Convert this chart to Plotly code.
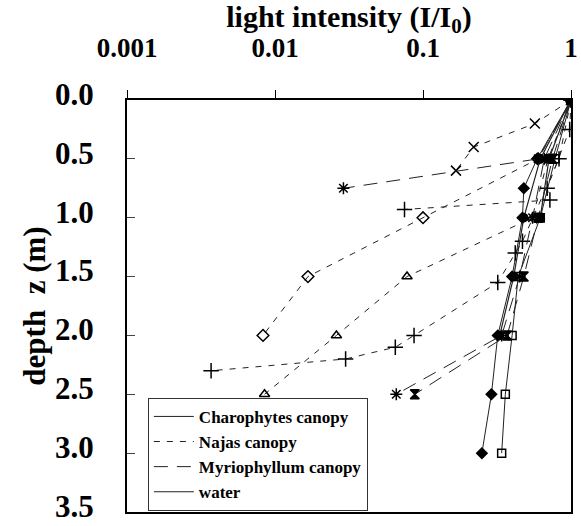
import plotly.graph_objects as go

# ---------------- data ----------------
# Charophytes canopy
char_dia_z = [0, 0.5, 0.75, 1.0, 1.5, 2.0, 2.5, 3.0]
char_dia_v = [1, 0.59, 0.48, 0.47, 0.40, 0.32, 0.29, 0.25]
char_sq_z = [0, 0.5, 1.0, 1.5, 2.0, 2.5, 3.0]
char_sq_v = [1, 0.78, 0.62, 0.44, 0.40, 0.36, 0.34]

# Najas canopy
naj_x_z = [0, 0.2, 0.4, 0.6]
naj_x_v = [1, 0.57, 0.22, 0.167]
naj_dia_z = [0, 0.5, 1.0, 1.5, 2.0]
naj_dia_v = [1, 0.60, 0.10, 0.0167, 0.0083]
naj_tri_z = [0, 0.5, 1.0, 1.5, 2.0, 2.5]
naj_tri_v = [1, 0.70, 0.55, 0.078, 0.026, 0.0085]
naj_pl1_z = [0, 0.25, 0.75, 0.85, 0.93]
naj_pl1_v = [1, 0.98, 0.69, 0.72, 0.075]
naj_pl2_z = [0, 0.5, 1.2, 1.3, 1.55, 2.0, 2.1, 2.2, 2.3]
naj_pl2_v = [1, 0.83, 0.47, 0.42, 0.32, 0.087, 0.065, 0.030, 0.0037]

# Myriophyllum canopy
myr_hg_z = [0, 0.5, 1.0, 1.5, 2.0, 2.5]
myr_hg_v = [1, 0.75, 0.60, 0.48, 0.37, 0.088]
myr_st1_z = [0, 0.5, 0.75]
myr_st1_v = [1, 0.60, 0.029]
myr_st2_z = [0, 0.5, 1.0, 1.5, 2.0, 2.5]
myr_st2_v = [1, 0.66, 0.55, 0.45, 0.34, 0.066]

# water
wat_ci_z = [0, 0.5, 1.0, 1.5, 2.0]
wat_ci_v = [1, 0.62, 0.48, 0.41, 0.33]
wat_sq_z = [0, 0.5, 1.0]
wat_sq_v = [1, 0.71, 0.62]

legend_names = ["Charophytes canopy", "Najas canopy", "Myriophyllum canopy", "water"]
x_ticks = [0.001, 0.01, 0.1, 1]
x_tick_labels = ["0.001", "0.01", "0.1", "1"]
y_ticks = [0, 0.5, 1.0, 1.5, 2.0, 2.5, 3.0, 3.5]

# ---------------- styles ----------------
FONT = "Liberation Serif"
LC = "#222222"
styles = {
    "Charophytes canopy": dict(color=LC, width=1, dash="solid"),
    "Najas canopy": dict(color=LC, width=1, dash="6px,7px"),
    "Myriophyllum canopy": dict(color=LC, width=1, dash="14px,9px"),
    "water": dict(color=LC, width=1.2, dash="solid"),
}

series = [
    ("Charophytes canopy", char_dia_v, char_dia_z, "diamond", 8),
    ("Charophytes canopy", char_sq_v, char_sq_z, "square-open", 8),
    ("Najas canopy", naj_x_v, naj_x_z, "x-thin-open", 10),
    ("Najas canopy", naj_dia_v, naj_dia_z, "diamond-open", 9),
    ("Najas canopy", naj_tri_v, naj_tri_z, "triangle-up-open", 9),
    ("Najas canopy", naj_pl1_v, naj_pl1_z, "cross-thin-open", 11),
    ("Najas canopy", naj_pl2_v, naj_pl2_z, "cross-thin-open", 11),
    ("Myriophyllum canopy", myr_hg_v, myr_hg_z, "hourglass", 9),
    ("Myriophyllum canopy", myr_st1_v, myr_st1_z, "asterisk-open", 10),
    ("Myriophyllum canopy", myr_st2_v, myr_st2_z, "asterisk-open", 10),
    ("water", wat_ci_v, wat_ci_z, "circle", 8),
    ("water", wat_sq_v, wat_sq_z, "square", 8),
]

fig = go.Figure()
for name, v, z, sym, sz in series:
    fig.add_trace(go.Scatter(
        x=v, y=z, mode="lines+markers", showlegend=False,
        line=styles[name],
        marker=dict(symbol=sym, size=sz, color="black",
                    line=dict(color="black", width=1.5)),
    ))

for name in legend_names:
    fig.add_trace(go.Scatter(x=[0.5], y=[-1], mode="lines", name=name,
                             line=styles[name]))

fig.update_layout(
    width=581, height=526,
    margin=dict(l=127, r=10, t=100, b=14, autoexpand=False),
    paper_bgcolor="white", plot_bgcolor="white",
    font=dict(family=FONT, color="black"),
    showlegend=True,
    legend=dict(x=0.047, y=0.277, xanchor="left", yanchor="top",
                bgcolor="white", bordercolor="#333", borderwidth=1,
                font=dict(family=FONT, size=17, color="black", weight="bold"),
                tracegroupgap=0, itemwidth=40),
)
fig.update_xaxes(
    type="log", range=[-3, 0], side="top",
    tickvals=x_ticks, ticktext=x_tick_labels,
    ticks="outside", ticklen=8, tickcolor="black", tickwidth=1,
    tickfont=dict(family=FONT, size=27, color="black", weight="bold"),
    ticklabelstandoff=22, ticklabeloverflow="allow",
    showgrid=False, zeroline=False,
    showline=True, linecolor="black", linewidth=2, mirror=True,
    title=dict(text="light intensity (I/I<sub>0</sub>)", standoff=6,
               font=dict(family=FONT, size=30, color="black", weight="bold")),
)
fig.update_yaxes(
    range=[3.5, 0], tickvals=y_ticks, tickformat=".1f",
    ticks="inside", ticklen=8, tickcolor="#444", tickwidth=1,
    tickfont=dict(family=FONT, size=31, color="black", weight="bold"),
    ticklabelstandoff=25, ticklabeloverflow="allow", ticklabelshift=6,
    showgrid=False, zeroline=False,
    showline=True, linecolor="black", linewidth=2, mirror=True,
    title=dict(text="depth&nbsp;&nbsp;z (m)", standoff=0,
               font=dict(family=FONT, size=31, color="black", weight="bold")),
)

fig.write_html("out.html")
